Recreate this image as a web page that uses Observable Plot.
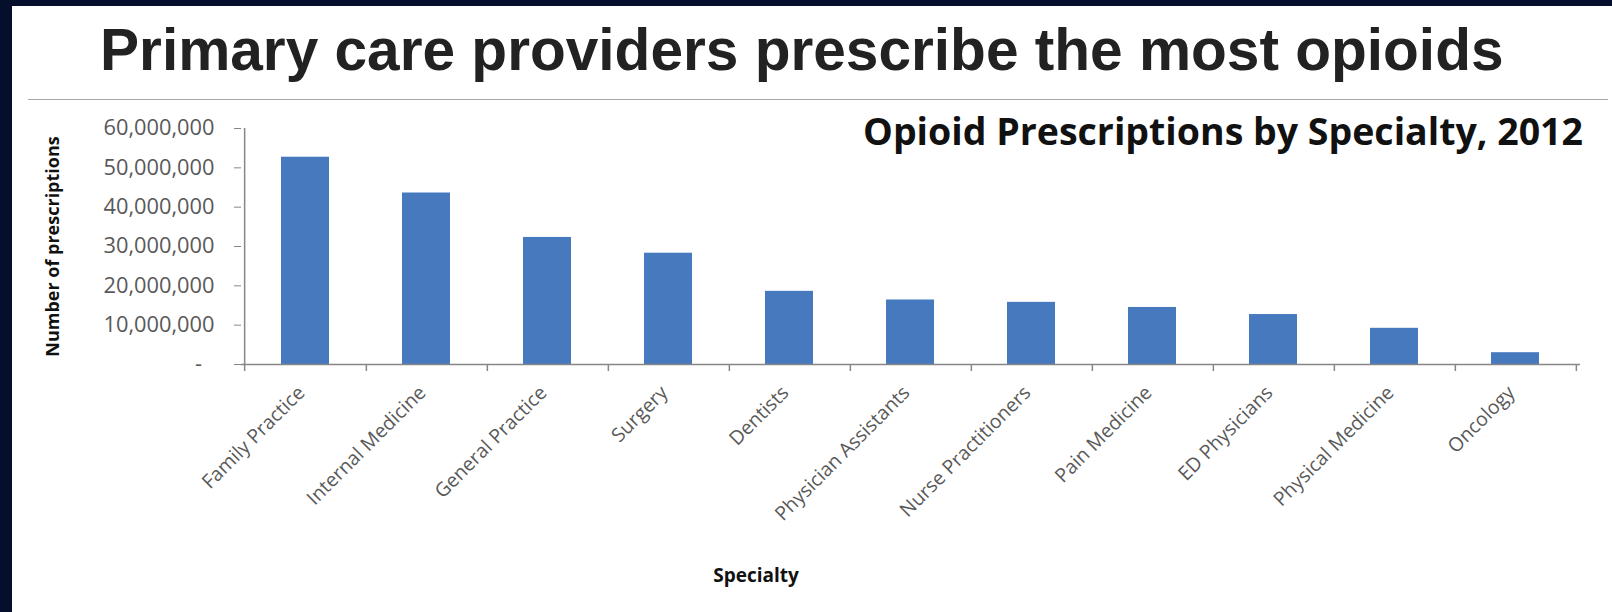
<!DOCTYPE html>
<html>
<head>
<meta charset="utf-8">
<script src="https://cdn.jsdelivr.net/npm/d3@7"></script>
<script src="https://cdn.jsdelivr.net/npm/@observablehq/plot@0.6"></script>
<style>
  html, body { margin: 0; padding: 0; }
  body { width: 1612px; height: 612px; background: #ffffff; position: relative; overflow: hidden; }
  .navy-left { position: absolute; left: 0; top: 0; width: 12px; height: 612px; background: #050f2c; }
  .navy-top { position: absolute; left: 0; top: 0; width: 1612px; height: 6px; background: #050f2c; }
  .title { position: absolute; left: 100px; top: 21px; font-family: "Liberation Sans", Arial, Helvetica, sans-serif; font-weight: bold; font-size: 58.6px; line-height: 58.6px; color: #222222; white-space: nowrap; }
  .rule { position: absolute; left: 28px; top: 99px; width: 1580px; height: 0; border-top: 1.5px solid #a8a8a8; }
  .subtitle { position: absolute; right: 29px; top: 112px; font-family: "Open Sans", sans-serif; font-weight: bold; font-size: 37.5px; line-height: 37.5px; color: #111111; white-space: nowrap; }
  .xtitle { position: absolute; left: 656px; width: 200px; top: 566px; text-align: center; font-family: "Open Sans", sans-serif; font-weight: bold; font-size: 19px; line-height: 19px; color: #111111; }
  #chart { position: absolute; left: 0; top: 105px; }
</style>
</head>
<body>
<div class="navy-left"></div>
<div class="navy-top"></div>
<div class="title">Primary care providers prescribe the most opioids</div>
<div class="rule"></div>
<div class="subtitle">Opioid Prescriptions by Specialty, 2012</div>
<div id="chart"></div>
<div class="xtitle">Specialty</div>
<script>
const specialties = [
  "Family Practice", "Internal Medicine", "General Practice", "Surgery", "Dentists",
  "Physician Assistants", "Nurse Practitioners", "Pain Medicine", "ED Physicians",
  "Physical Medicine", "Oncology"
];
const prescriptions = [
  52700000, 43600000, 32300000, 28300000, 18600000,
  16400000, 15800000, 14500000, 12700000, 9200000, 3000000
];
const yTicks = [0, 10000000, 20000000, 30000000, 40000000, 50000000, 60000000];
const yAxisTitle = "Number of prescriptions";

const W = 1612, H = 507;
const mL = 241, mR = 32, mT = 23, mB = 248;
const step = (W - mL - mR) / specialties.length;

const data = specialties.map((s, i) => ({specialty: s, value: prescriptions[i]}));
const axisGray = "#868686";

const chart = Plot.plot({
  width: W,
  height: H,
  marginLeft: mL,
  marginRight: mR,
  marginTop: mT,
  marginBottom: mB,
  style: {fontFamily: "'Open Sans', sans-serif", background: "transparent", overflow: "visible"},
  x: {domain: specialties, paddingInner: 0.6, paddingOuter: 0.3, label: null},
  y: {domain: [0, 60000000], label: null},
  marks: [
    Plot.barY(data, {x: "specialty", y: "value", fill: "#4679bd"}),
    Plot.ruleY([0], {stroke: axisGray, strokeWidth: 1.5}),
    Plot.ruleX(specialties.slice(0, 1), {x: d => d, y1: 0, y2: 60000000, dx: -step / 2, stroke: axisGray, strokeWidth: 1.5}),
    Plot.ruleX(specialties, {x: d => d, y1: 0, y2: 0, insetBottom: -7, dx: step / 2, stroke: axisGray, strokeWidth: 1.5}),
    Plot.ruleX(specialties.slice(0, 1), {x: d => d, y1: 0, y2: 0, insetBottom: -7, dx: -step / 2, stroke: axisGray, strokeWidth: 1.5}),
    Plot.axisY({
      ticks: yTicks, tickSize: 7, tickPadding: 20,
      tickFormat: d => d === 0 ? "-\u2007" : d3.format(",")(d),
      fontSize: 21.8, fill: "#595959", stroke: axisGray, label: null
    }),
    Plot.axisX({tickSize: 0, tickRotate: -45, tickPadding: 25, dx: -4, fontSize: 19.5, fill: "#595959", label: null}),
    Plot.text([yAxisTitle], {frameAnchor: "left", textAnchor: "middle", rotate: -90, dx: -188, fontWeight: "bold", fontSize: 18, fill: "#111111"})
  ]
});
document.getElementById("chart").appendChild(chart);
</script>
</body>
</html>
